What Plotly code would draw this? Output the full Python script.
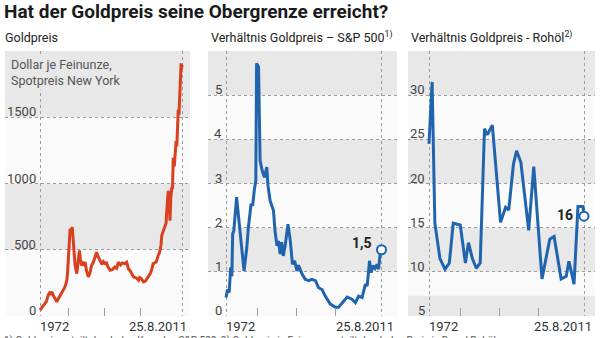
import plotly.graph_objects as go

W, H = 600, 338

# ---------------- data ----------------
gold_year = [1972.0, 1972.5, 1973.0, 1973.4, 1973.8, 1974.0, 1974.3, 1974.7, 1975.0, 1975.3,
             1975.6, 1975.9, 1976.3, 1976.7, 1977.0, 1977.3, 1977.6, 1978.0, 1978.5, 1978.9,
             1979.2, 1979.5, 1979.7, 1979.9, 1980.1, 1980.4, 1980.7, 1981.0, 1981.2, 1981.5,
             1981.8, 1982.1, 1982.3, 1982.6, 1982.8, 1983.0, 1983.3, 1983.6, 1984.0, 1984.3,
             1984.6, 1985.0, 1985.5, 1985.9, 1986.4, 1986.8, 1987.2, 1987.5, 1987.8, 1988.2,
             1988.8, 1989.3, 1989.7, 1990.2, 1990.6, 1991.0, 1991.6, 1992.2, 1992.9, 1993.4,
             1993.9, 1994.5, 1995.0, 1995.7, 1996.2, 1996.7, 1997.2, 1997.7, 1998.1, 1998.6,
             1999.0, 1999.5, 1999.8, 2000.3, 2000.9, 2001.5, 2002.0, 2002.3, 2002.8, 2003.2,
             2003.6, 2004.0, 2004.5, 2005.0, 2005.4, 2005.8, 2006.0, 2006.4, 2006.9, 2007.2,
             2007.4, 2007.6, 2007.8, 2008.0, 2008.2, 2008.3, 2008.5, 2008.8, 2009.0, 2009.2,
             2009.5, 2009.8, 2010.0, 2010.2, 2010.4, 2010.6, 2010.8, 2011.0, 2011.1, 2011.3,
             2011.4, 2011.5, 2011.65]
gold_usd = [45, 60, 75, 95, 110, 130, 157, 175, 168, 182,
            160, 145, 128, 107, 125, 140, 145, 170, 195, 215,
            240, 270, 330, 445, 560, 657, 640, 670, 600, 445,
            380, 340, 320, 400, 450, 495, 420, 382, 400, 390,
            407, 340, 295, 320, 382, 400, 430, 460, 482, 450,
            420, 390, 410, 395, 400, 370, 345, 350, 370, 360,
            407, 385, 400, 395, 405, 357, 340, 320, 295, 290,
            285, 270, 290, 280, 257, 265, 285, 307, 320, 350,
            395, 400, 410, 457, 480, 540, 607, 640, 670, 700,
            795, 870, 945, 900, 780, 720, 880, 970, 960, 1195,
            1130, 1210, 1320, 1280, 1420, 1557, 1520, 1645, 1620, 1750,
            1907, 1860, 1895]

spx_year = [1972.0, 1972.4, 1972.8, 1973.2, 1973.5, 1973.7, 1974.0, 1974.7, 1975.3, 1976.0,
            1976.6, 1977.3, 1977.7, 1978.4, 1978.8, 1979.2, 1979.6, 1979.8, 1980.3, 1980.7,
            1981.2, 1981.8, 1982.4, 1982.7, 1983.25, 1984.1, 1984.5, 1985.0, 1985.4, 1985.8,
            1986.2, 1986.6, 1987.1, 1987.8, 1988.4, 1988.95, 1989.5, 1990.1, 1990.5, 1991.4,
            1992.2, 1993.05, 1993.9, 1994.8, 1995.6, 1996.5, 1997.3, 1998.6, 1999.9, 2000.7,
            2002.0, 2002.9, 2004.1, 2005.0, 2005.8, 2006.7, 2007.55, 2008.0, 2008.6, 2009.0,
            2009.5, 2010.0, 2010.5, 2010.9, 2011.4, 2011.65]
spx_ratio = [0.42, 0.6, 0.53, 1.1, 0.9, 1.86, 1.93, 2.69, 2.16, 1.55,
             1.02, 1.55, 2.0, 2.54, 2.5, 2.84, 3.07, 5.72, 5.64, 3.52,
             3.3, 3.14, 3.37, 2.95, 2.61, 2.39, 1.93, 1.59, 1.7, 1.4,
             1.67, 1.36, 1.6, 2.08, 1.7, 1.17, 1.25, 1.02, 1.15, 0.95,
             0.83, 0.8, 0.83, 0.8, 0.64, 0.6, 0.45, 0.27, 0.2, 0.2,
             0.34, 0.43, 0.38, 0.3, 0.45, 0.42, 0.72, 0.68, 1.25, 0.98,
             1.14, 1.08, 1.17, 1.06, 1.48, 1.5]

oil_year = [1972.0, 1972.8, 1973.5, 1974.8, 1976.1, 1977.2, 1978.2, 1980.0, 1981.3, 1982.1,
            1983.1, 1984.1, 1985.1, 1986.2, 1986.9, 1988.2, 1990.3, 1991.6, 1992.4, 1993.6,
            1994.4, 1995.5, 1997.5, 1998.8, 2000.9, 2002.9, 2004.0, 2005.8, 2007.1, 2007.8,
            2009.1, 2010.1, 2011.4, 2011.65]
oil_ratio = [24.5, 31.5, 15.5, 11.5, 10.3, 11.0, 15.5, 15.3, 11.0, 13.3,
             11.5, 10.4, 11.0, 26.2, 25.5, 26.6, 15.6, 17.3, 17.0, 22.2,
             23.7, 22.4, 14.7, 21.9, 9.2, 13.7, 14.0, 9.2, 9.5, 11.2,
             8.6, 17.4, 17.4, 16.3]

gold_ticks = [0, 500, 1000, 1500, 2000]
gold_tick_labels = ["0", "500", "1000", "1500", ""]
spx_ticks = [0, 1, 2, 3, 4, 5, 6]
spx_tick_labels = ["0", "1", "2", "3", "4", "5", ""]
oil_ticks = [5, 10, 15, 20, 25, 30, 35]
oil_tick_labels = ["5", "10", "15", "20", "25", "30", ""]

decade_ticks = [1980, 1990, 2000]
start_label = "1972"
end_label = "25.8.2011"
spx_end_label = "1,5"
oil_end_label = "16"

title = "Hat der Goldpreis seine Obergrenze erreicht?"
subtitles = ["Goldpreis",
             "Verhältnis Goldpreis – S&amp;P 500<sup>1)</sup>",
             "Verhältnis Goldpreis - Rohöl<sup>2)</sup>"]
unit_note = "Dollar je Feinunze,<br>Spotpreis New York"
footnote = ("1) Goldpreis geteilt durch den Kurs des S&amp;P 500; "
            "2) Goldpreis je Feinunze geteilt durch den Preis je Barrel Rohöl")

X_START, X_END = 1972.0, 2011.65

# ---------------- style ----------------
FONT = "Roboto, Arial, sans-serif"
RED = "#d8401f"
BLUE = "#1f64ad"
GRID = "#9c9c9c"
BAND = "#e8e8e8"
PLOT_BG = "#fafafa"
TXT = "#444444"

TOP_PX, BOT_PX = 51, 316


def px_x(p):
    return p / W


def px_y(p):
    return 1 - p / H


panels = [
    dict(x0=5, x1=190, axis=40, end=182, yr=[0, 2000], ticks=gold_ticks, labels=gold_tick_labels,
         bands=[(500, 1000), (1500, 2000)], xs=gold_year, ys=gold_usd, color=RED, title_px=3),
    dict(x0=208, x1=397, axis=226, end=381.5, yr=[0, 6], ticks=spx_ticks, labels=spx_tick_labels,
         bands=[(1, 2), (3, 4), (5, 6)], xs=spx_year, ys=spx_ratio, color=BLUE, title_px=209),
    dict(x0=408, x1=595, axis=429, end=584, yr=[5, 35], ticks=oil_ticks, labels=oil_tick_labels,
         bands=[(5, 7.3), (10, 15), (20, 25), (30, 35)], xs=oil_year, ys=oil_ratio, color=BLUE,
         title_px=409),
]

fig = go.Figure()
shapes = []
annotations = []
layout_axes = {}

for i, p in enumerate(panels):
    n = "" if i == 0 else str(i + 1)
    xa, ya = "x" + n, "y" + n
    ppy = (p["end"] - p["axis"]) / (X_END - X_START)
    left = X_START - (p["axis"] - p["x0"]) / ppy
    right = X_END + (p["x1"] - p["end"]) / ppy

    layout_axes["xaxis" + n] = dict(
        domain=[px_x(p["x0"]), px_x(p["x1"])], range=[left, right], anchor=ya,
        tickmode="array", tickvals=[X_START, X_END], ticks="", showticklabels=False,
        showgrid=True, gridcolor=GRID, griddash="dot", gridwidth=1,
        zeroline=False, showline=False, fixedrange=True,
        minor=dict(tickmode="array", tickvals=decade_ticks, ticks="inside", ticklen=8,
                   tickcolor=GRID, tickwidth=1, showgrid=False),
    )
    layout_axes["yaxis" + n] = dict(
        domain=[px_y(BOT_PX), px_y(TOP_PX)], range=p["yr"], anchor=xa,
        tickmode="array", tickvals=p["ticks"], showticklabels=False, ticks="",
        showgrid=True, gridcolor=GRID, griddash="dot", gridwidth=1,
        zeroline=False, showline=False, fixedrange=True,
    )

    for (b0, b1) in p["bands"]:
        shapes.append(dict(type="rect", xref=xa + " domain", yref=ya, x0=0, x1=1, y0=b0, y1=b1,
                           fillcolor=BAND, line=dict(width=0), layer="below"))

    fig.add_trace(go.Scatter(x=p["xs"], y=p["ys"], xaxis=xa, yaxis=ya, mode="lines",
                             line=dict(color=p["color"], width=3), hoverinfo="skip",
                             showlegend=False))

    for v, lab in zip(p["ticks"], p["labels"]):
        if not lab:
            continue
        annotations.append(dict(text=lab, xref="paper", yref=ya, x=px_x(p["axis"] - 3), y=v,
                                xanchor="right", yanchor="bottom", showarrow=False, yshift=-3,
                                borderpad=0, font=dict(family=FONT, size=13, color=TXT)))

    annotations.append(dict(text=start_label, xref="paper", yref="paper",
                            x=px_x(p["axis"] + 14), y=px_y(326), xanchor="center", yanchor="middle",
                            showarrow=False, font=dict(family=FONT, size=13, color="#333333")))
    annotations.append(dict(text=end_label, xref="paper", yref="paper",
                            x=px_x(p["x1"] - 1), y=px_y(326), xanchor="right", yanchor="middle",
                            showarrow=False, font=dict(family=FONT, size=13, color="#333333")))
    annotations.append(dict(text=subtitles[i], xref="paper", yref="paper",
                            x=px_x(p["title_px"]), y=px_y(37), xanchor="left", yanchor="middle",
                            showarrow=False, font=dict(family=FONT, size=12.5, color="#222222")))

# end markers
fig.add_trace(go.Scatter(x=[spx_year[-1]], y=[spx_ratio[-1]], xaxis="x2", yaxis="y2", mode="markers",
                         marker=dict(symbol="circle", size=9, color="white",
                                     line=dict(color=BLUE, width=2)),
                         hoverinfo="skip", showlegend=False))
fig.add_trace(go.Scatter(x=[oil_year[-1]], y=[oil_ratio[-1]], xaxis="x3", yaxis="y3", mode="markers",
                         marker=dict(symbol="circle", size=9, color="white",
                                     line=dict(color=BLUE, width=2)),
                         hoverinfo="skip", showlegend=False))

annotations.append(dict(text="<b>" + spx_end_label + "</b>", xref="paper", yref="paper",
                        x=px_x(362), y=px_y(243), xanchor="center", yanchor="middle", showarrow=False,
                        font=dict(family=FONT, size=14, color="#222222")))
annotations.append(dict(text="<b>" + oil_end_label + "</b>", xref="paper", yref="paper",
                        x=px_x(565), y=px_y(215), xanchor="center", yanchor="middle", showarrow=False,
                        font=dict(family=FONT, size=14, color="#222222")))

# title
annotations.append(dict(text="<b>" + title + "</b>", xref="paper", yref="paper",
                        x=px_x(2), y=px_y(12), xanchor="left", yanchor="middle", showarrow=False,
                        font=dict(family=FONT, size=19, color="#1a1a1a")))
# unit note (covers the top of the left vertical line like in the original)
annotations.append(dict(text=unit_note, xref="paper", yref="paper", align="left",
                        x=px_x(9), y=px_y(55), xanchor="left", yanchor="top", showarrow=False,
                        bgcolor=BAND, borderpad=1,
                        font=dict(family=FONT, size=12.5, color="#555555")))
# footnote (cut off at the bottom edge as in the reference)
annotations.append(dict(text=footnote, xref="paper", yref="paper", align="left",
                        x=px_x(2), y=px_y(333), xanchor="left", yanchor="top", showarrow=False,
                        font=dict(family=FONT, size=10, color="#555555")))

fig.update_layout(
    width=W, height=H, margin=dict(l=0, r=0, t=0, b=0),
    paper_bgcolor="white", plot_bgcolor=PLOT_BG,
    shapes=shapes, annotations=annotations, showlegend=False,
    font=dict(family=FONT),
    **layout_axes,
)

fig.write_html("out.html", config={"displayModeBar": False})
